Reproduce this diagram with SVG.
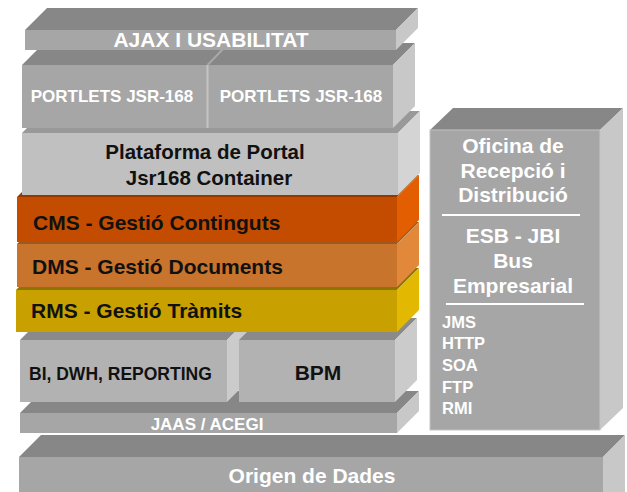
<svg xmlns="http://www.w3.org/2000/svg" width="627" height="492" viewBox="0 0 627 492">
<style>
.gf{fill:#a6a6a6}.gt{fill:#878787}.gs{fill:#c8c8c8}
.pf{fill:#c0c0c0}.pt{fill:#999999}.ps{fill:#d4d4d4}
.bf{fill:#b2b2b2}.bt{fill:#8a8a8a}.bs{fill:#cbcbcb}
.cf{fill:#c44c00}.ct{fill:#943800}.cs{fill:#e25e00}
.df{fill:#c8742c}.dt{fill:#9c5a1c}.ds{fill:#e2883a}
.rf{fill:#c8a000}.rt{fill:#8e7400}.rs{fill:#e2b800}
text{font-family:"Liberation Sans",Arial,sans-serif;font-weight:bold}
.w{fill:#ffffff}.k{fill:#111111}
.sep{stroke:#ffffff;stroke-width:2}
</style>
<rect width="627" height="492" fill="#ffffff"/>

<g id="origen">
<polygon class="gt" points="19,457 41,435 625,435 603,457"/>
<polygon class="gs" points="603,457 625,435 625,492 603,492"/>
<rect class="gf" x="19" y="457" width="584" height="35"/>
<text class="w" x="312" y="483" font-size="21" text-anchor="middle">Origen de Dades</text>
</g>

<g id="oficina">
<polygon class="gt" points="430,130 453,108 623,108 600,130"/>
<polygon class="gs" points="600,130 623,108 623,408 600,430"/>
<rect class="gf" x="430" y="130" width="170" height="300" stroke="#c4c4c4" stroke-width="1"/>
<g class="w" font-size="21" text-anchor="middle">
<text x="513" y="153">Oficina de</text>
<text x="513" y="178">Recepció i</text>
<text x="513" y="202">Distribució</text>
<text x="513" y="243">ESB - JBI</text>
<text x="513" y="268">Bus</text>
<text x="513" y="293">Empresarial</text>
</g>
<line class="sep" x1="442" y1="215" x2="580" y2="215"/>
<line class="sep" x1="446" y1="304" x2="584" y2="304"/>
<g class="w" font-size="16.5">
<text x="442" y="328">JMS</text>
<text x="442" y="349">HTTP</text>
<text x="442" y="371">SOA</text>
<text x="442" y="393">FTP</text>
<text x="442" y="414">RMI</text>
</g>
</g>

<g id="jaas">
<polygon class="gt" points="20,413 42,391 419,391 397,413"/>
<polygon class="gs" points="397,413 419,391 419,411 397,433"/>
<rect class="gf" x="20" y="413" width="377" height="20"/>
<text class="w" x="207" y="430" font-size="17" text-anchor="middle">JAAS / ACEGI</text>
</g>

<g id="bi">
<polygon class="bt" points="20,340 42,318 249,318 227,340"/>
<polygon class="bs" points="227,340 249,318 249,380 227,402"/>
<rect class="bf" x="20" y="340" width="207" height="62"/>
<text class="k" x="29" y="380" font-size="17.5">BI, DWH, REPORTING</text>
</g>

<g id="bpm">
<polygon class="bt" points="239,340 261,318 417,318 395,340"/>
<polygon class="bs" points="395,340 417,318 417,380 395,402"/>
<rect class="bf" x="239" y="340" width="156" height="62"/>
<text class="k" x="318" y="380" font-size="21" text-anchor="middle">BPM</text>
</g>

<g id="rms">
<polygon class="rt" points="16,290 38,268 419,268 397,290"/>
<polygon class="rs" points="397,290 419,268 419,310 397,332"/>
<rect class="rf" x="16" y="290" width="381" height="42"/>
<text class="k" x="31" y="318" font-size="21">RMS - Gestió Tràmits</text>
</g>

<g id="dms">
<polygon class="dt" points="17,244 39,222 419,222 397,244"/>
<polygon class="ds" points="397,244 419,222 419,265 397,287"/>
<rect class="df" x="17" y="244" width="380" height="43"/>
<text class="k" x="32" y="274" font-size="21">DMS - Gestió Documents</text>
</g>

<g id="cms">
<polygon class="ct" points="17,197 39,175 419,175 397,197"/>
<polygon class="cs" points="397,197 419,175 419,220 397,242"/>
<rect class="cf" x="17" y="197" width="380" height="45"/>
<text class="k" x="33" y="230" font-size="21">CMS - Gestió Continguts</text>
</g>

<g id="plataforma">
<polygon class="pt" points="22,133 44,111 420,111 398,133"/>
<polygon class="ps" points="398,133 420,111 420,173 398,195"/>
<rect class="pf" x="22" y="133" width="376" height="62"/>
<text class="k" x="205" y="159" font-size="20.5" text-anchor="middle">Plataforma de Portal</text>
<text class="k" x="209" y="185" font-size="20.5" text-anchor="middle">Jsr168 Container</text>
</g>

<g id="portlets">
<polygon class="gt" points="22,65 44,43 415,43 393,65"/>
<polygon class="gs" points="393,65 415,43 415,106 393,128"/>
<rect class="gf" x="22" y="65" width="371" height="63"/>
<line x1="207.5" y1="65" x2="207.5" y2="128" stroke="#c4c4c4" stroke-width="2"/>
<line x1="207.5" y1="65" x2="226" y2="46" stroke="#a8a8a8" stroke-width="2"/>
<text class="w" x="112" y="102" font-size="17" text-anchor="middle">PORTLETS JSR-168</text>
<text class="w" x="301" y="102" font-size="17" text-anchor="middle">PORTLETS JSR-168</text>
</g>

<g id="ajax">
<polygon class="gt" points="25,30 47,8 418,8 396,30"/>
<polygon class="gs" points="396,30 418,8 418,28 396,50"/>
<rect class="gf" x="25" y="30" width="371" height="20"/>
<text class="w" x="211" y="47" font-size="21" text-anchor="middle">AJAX  I USABILITAT</text>
</g>

<g id="connectors"></g>
</svg>
